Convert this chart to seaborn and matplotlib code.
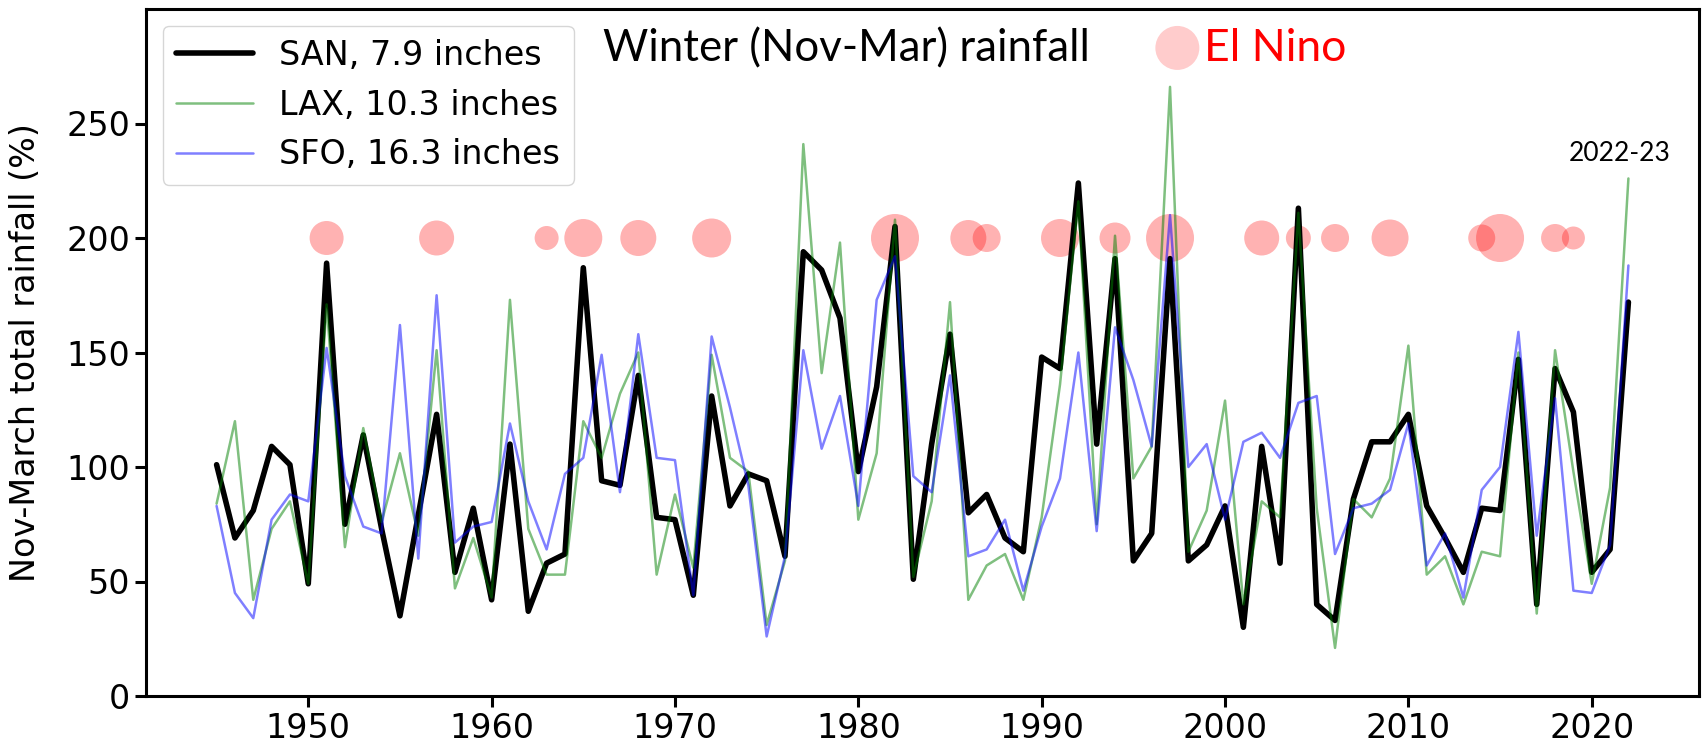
import numpy as np
import pandas as pd
import matplotlib
matplotlib.use("Agg")
import matplotlib.pyplot as plt
import seaborn as sns

# ---------------- data ----------------
years = list(range(1945, 2023))
san = [101, 69, 81, 109, 101, 49, 189, 75, 114, 73,
       35, 79, 123, 54, 82, 42, 110, 37, 58, 62,
       187, 94, 92, 140, 78, 77, 44, 131, 83, 97,
       94, 61, 194, 186, 165, 98, 135, 205, 51, 110,
       158, 80, 88, 69, 63, 148, 143, 224, 110, 191,
       59, 71, 191, 59, 66, 83, 30, 109, 58, 213,
       40, 33, 86, 111, 111, 123, 83, 69, 54, 82,
       81, 147, 40, 143, 124, 54, 64, 172]
lax = [84, 120, 42, 73, 85, 49, 171, 65, 117, 76,
       106, 70, 151, 47, 69, 43, 173, 73, 53, 53,
       120, 104, 132, 150, 53, 88, 56, 149, 104, 98,
       31, 59, 241, 141, 198, 77, 106, 208, 52, 85,
       172, 42, 57, 62, 42, 78, 136, 216, 75, 201,
       95, 109, 266, 63, 81, 129, 40, 85, 78, 211,
       82, 21, 86, 78, 95, 153, 53, 61, 40, 63,
       61, 150, 36, 151, 98, 49, 91, 226]
sfo = [83, 45, 34, 77, 88, 85, 152, 96, 74, 71,
       162, 60, 175, 67, 74, 76, 119, 85, 64, 97,
       104, 149, 89, 158, 104, 103, 44, 157, 126, 92,
       26, 61, 151, 108, 131, 83, 173, 192, 96, 89,
       140, 61, 64, 77, 46, 74, 95, 150, 72, 161,
       138, 109, 210, 100, 110, 77, 111, 115, 104, 128,
       131, 62, 82, 84, 90, 119, 57, 71, 43, 90,
       100, 159, 70, 130, 46, 45, 66, 188]

elnino_years = [1951, 1957, 1963, 1965, 1968, 1972, 1982, 1986, 1987, 1991,
                1994, 1997, 2002, 2004, 2006, 2009, 2014, 2015, 2018, 2019]
elnino_strength = [34, 35, 24, 38, 36, 39, 48, 36, 28, 38,
                   31, 48, 35, 25, 28, 37, 27, 48, 28, 23]
elnino_level = 200

series_labels = ["SAN, 7.9 inches", "LAX, 10.3 inches", "SFO, 16.3 inches"]
xticks = [1950, 1960, 1970, 1980, 1990, 2000, 2010, 2020]
yticks = [0, 50, 100, 150, 200, 250]
title_text = "Winter (Nov-Mar) rainfall"
elnino_text = "El Nino"
last_text = "2022-23"
ylabel_text = "Nov-March total rainfall (%)"

BLACK, GREEN, BLUE, RED = "#000000", "#008000", "#0000ff", "#ff0000"

# ---------------- figure ----------------
sns.set_theme(style="ticks")
plt.rcParams['font.family'] = ['DejaVu Sans']

W, H, DPI = 17.04, 7.5, 100
fig = plt.figure(figsize=(W, H), dpi=DPI)
ax = fig.add_axes([146 / 1704, 54 / 750, (1699 - 146) / 1704, (741 - 54) / 750])

df = pd.DataFrame({"year": years, "SAN": san, "LAX": lax, "SFO": sfo})

sns.lineplot(data=df, x="year", y="SAN", color=BLACK, lw=4.0, ax=ax,
             label=series_labels[0])
sns.lineplot(data=df, x="year", y="LAX", color=GREEN, lw=1.8, alpha=0.5, ax=ax,
             label=series_labels[1])
sns.lineplot(data=df, x="year", y="SFO", color=BLUE, lw=1.8, alpha=0.5, ax=ax,
             label=series_labels[2])

# El Nino circles (diameter in px -> area in pt^2)
en = pd.DataFrame({"year": elnino_years,
                   "y": [elnino_level for _ in elnino_years],
                   "area": [(d * 72 / DPI) ** 2 for d in elnino_strength]})
amin, amax = en["area"].min(), en["area"].max()
sns.scatterplot(data=en, x="year", y="y", size="area", sizes=(amin, amax),
                size_norm=(amin, amax), color=RED, alpha=0.3,
                edgecolor="none", legend=False, ax=ax)

ax.set_ylim(0, 300)
ax.set_xlim(1941.15, 2025.85)
ax.set_xticks(xticks)
ax.set_yticks(yticks)
ax.set_xlabel("")
ax.set_ylabel(ylabel_text, fontsize=24, color=BLACK)
ax.yaxis.set_label_coords(-0.067, 0.5)

ax.tick_params(axis="both", labelsize=24, length=8, width=2.2, direction="out",
               color=BLACK, labelcolor=BLACK)
for sp in ax.spines.values():
    sp.set_visible(True)
    sp.set_linewidth(2.2)
    sp.set_color(BLACK)

leg = ax.legend(loc="upper left", fontsize=24, handlelength=2.3,
                labelspacing=0.5, frameon=True, fancybox=True,
                framealpha=0.8, edgecolor="0.8")
for t in leg.get_texts():
    t.set_color(BLACK)

# El Nino key marker
ax.scatter([1997.4], [283], s=(44 * 72 / DPI) ** 2, color=RED, alpha=0.2,
           edgecolor="none", zorder=5)

ax.text(0.294, 0.942, title_text, transform=ax.transAxes, fontsize=31.5,
        family=["Lato", "DejaVu Sans"], va="center", ha="left", color=BLACK)
ax.text(0.681, 0.942, elnino_text, transform=ax.transAxes, fontsize=32,
        family=["Lato", "DejaVu Sans"], va="center", ha="left", color=RED)
ax.text(0.916, 237 / 300, last_text, transform=ax.transAxes, fontsize=19,
        family=["Lato", "DejaVu Sans"], va="center", ha="left", color=BLACK)

fig.savefig("out.png", dpi=DPI)
